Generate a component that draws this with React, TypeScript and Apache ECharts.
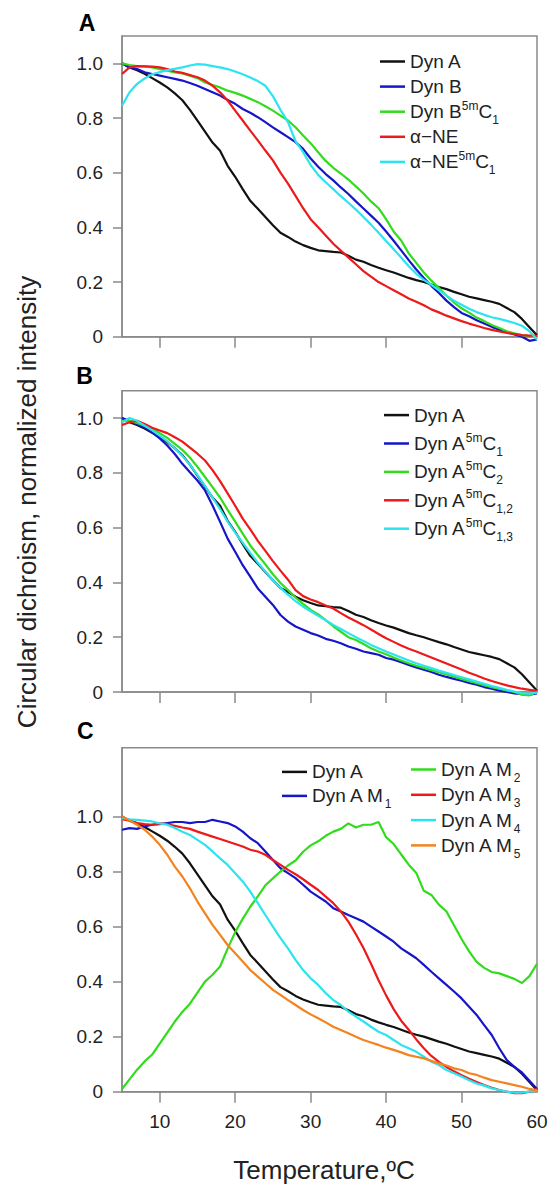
import React, { useEffect, useRef } from "react";
import * as echarts from "echarts";

const FONT = "'Liberation Sans', Arial, Helvetica, sans-serif";

// Temperature grid (°C)
const temperature = [
  5, 6, 7, 8, 9, 10, 11, 12, 13, 14, 15, 16, 17, 18, 19, 20, 21, 22, 23, 24, 25, 26, 27, 28,
  29, 30, 31, 32, 33, 34, 35, 36, 37, 38, 39, 40, 41, 42, 43, 44, 45, 46, 47, 48, 49, 50, 51,
  52, 53, 54, 55, 56, 57, 58, 59, 60,
];

// Dyn A (shared by panels A, B, C)
const dynA = [
  1.0, 0.985, 0.975, 0.962, 0.946, 0.93, 0.912, 0.89, 0.865, 0.83, 0.79, 0.75, 0.71, 0.68, 0.625,
  0.585, 0.54, 0.497, 0.468, 0.438, 0.408, 0.38, 0.365, 0.348, 0.335, 0.325, 0.316, 0.313, 0.31,
  0.308, 0.296, 0.282, 0.274, 0.262, 0.252, 0.243, 0.235, 0.225, 0.215, 0.207, 0.2, 0.191, 0.182,
  0.174, 0.164, 0.155, 0.146, 0.14, 0.134, 0.128, 0.12, 0.105, 0.09, 0.065, 0.035, 0.005,
];

// Panel A
const dynB = [
  1.0, 0.985, 0.979, 0.967, 0.961, 0.955, 0.949, 0.943, 0.937, 0.928, 0.918, 0.906, 0.894, 0.882,
  0.866, 0.852, 0.833, 0.819, 0.803, 0.785, 0.766, 0.748, 0.73, 0.712, 0.687, 0.652, 0.622, 0.595,
  0.572, 0.546, 0.522, 0.495, 0.469, 0.443, 0.417, 0.385, 0.351, 0.316, 0.28, 0.246, 0.215, 0.186,
  0.16, 0.132, 0.108, 0.087, 0.075, 0.06, 0.048, 0.036, 0.026, 0.016, 0.008, 0.0, -0.015, -0.01,
];
const dynB5mC1 = [
  1.0, 0.994, 0.99, 0.989, 0.985, 0.979, 0.973, 0.967, 0.963, 0.955, 0.946, 0.93, 0.921, 0.912,
  0.9, 0.892, 0.882, 0.87, 0.858, 0.843, 0.827, 0.809, 0.791, 0.766, 0.736, 0.708, 0.675, 0.643,
  0.618, 0.597, 0.575, 0.55, 0.524, 0.495, 0.47, 0.43, 0.385, 0.352, 0.305, 0.27, 0.235, 0.205,
  0.178, 0.15, 0.125, 0.104, 0.088, 0.07, 0.057, 0.043, 0.032, 0.02, 0.012, 0.006, 0.002, 0.0,
];
const alphaNE = [
  0.961, 0.985, 0.99, 0.989, 0.988, 0.985, 0.979, 0.97, 0.965, 0.957, 0.949, 0.937, 0.918, 0.894,
  0.864, 0.827, 0.791, 0.754, 0.718, 0.681, 0.645, 0.6, 0.56, 0.515, 0.47, 0.43, 0.4, 0.37, 0.34,
  0.315, 0.29, 0.265, 0.24, 0.22, 0.2, 0.185, 0.17, 0.155, 0.14, 0.128, 0.115, 0.1, 0.089, 0.077,
  0.067, 0.057, 0.048, 0.04, 0.032, 0.025, 0.019, 0.014, 0.01, 0.006, 0.004, 0.004,
];
const alphaNE5mC1 = [
  0.845, 0.894, 0.925, 0.945, 0.96, 0.968, 0.975, 0.98, 0.985, 0.992, 0.997, 0.995, 0.99, 0.985,
  0.979, 0.97, 0.96, 0.948, 0.935, 0.918, 0.88, 0.83, 0.785, 0.715, 0.675, 0.628, 0.592, 0.565,
  0.54, 0.514, 0.49, 0.465, 0.438, 0.41, 0.38, 0.35, 0.32, 0.29, 0.258, 0.23, 0.208, 0.19, 0.17,
  0.15, 0.132, 0.117, 0.102, 0.09, 0.08, 0.071, 0.065, 0.058, 0.05, 0.04, 0.02, -0.01,
];

// Panel B
const dynA5mC1 = [
  1.0, 0.99, 0.978, 0.966, 0.948, 0.926, 0.9, 0.869, 0.833, 0.802, 0.772, 0.736, 0.681, 0.621,
  0.56, 0.512, 0.463, 0.421, 0.378, 0.348, 0.318, 0.281, 0.257, 0.239, 0.227, 0.215, 0.206, 0.194,
  0.187, 0.178, 0.166, 0.158, 0.148, 0.142, 0.136, 0.124, 0.118, 0.109, 0.099, 0.09, 0.081, 0.073,
  0.063, 0.055, 0.048, 0.041, 0.033, 0.027, 0.018, 0.012, 0.005, 0.0, -0.005, -0.008, -0.01, -0.005,
];
const dynA5mC2 = [
  0.99, 0.99, 0.982, 0.972, 0.962, 0.945, 0.928, 0.906, 0.884, 0.856, 0.822, 0.785, 0.748, 0.71,
  0.665, 0.622, 0.578, 0.535, 0.5, 0.466, 0.43, 0.398, 0.372, 0.345, 0.322, 0.3, 0.283, 0.262,
  0.24, 0.22, 0.2, 0.19, 0.175, 0.16, 0.148, 0.138, 0.126, 0.115, 0.105, 0.096, 0.088, 0.08, 0.072,
  0.064, 0.056, 0.048, 0.04, 0.032, 0.025, 0.018, 0.012, 0.006, 0.0, -0.01, -0.012, 0.0,
];
const dynA5mC12 = [
  0.975, 0.985, 0.99, 0.978, 0.965, 0.955, 0.945, 0.93, 0.914, 0.892, 0.87, 0.845, 0.81, 0.77,
  0.725, 0.68, 0.633, 0.594, 0.552, 0.515, 0.478, 0.443, 0.41, 0.372, 0.35, 0.338, 0.328, 0.316,
  0.305, 0.288, 0.272, 0.258, 0.244, 0.228, 0.212, 0.196, 0.183, 0.17, 0.158, 0.148, 0.137, 0.126,
  0.115, 0.104, 0.093, 0.082, 0.07, 0.06, 0.049, 0.04, 0.032, 0.024, 0.018, 0.012, 0.008, 0.004,
];
const dynA5mC13 = [
  0.985, 1.0, 0.99, 0.972, 0.955, 0.936, 0.915, 0.89, 0.862, 0.83, 0.792, 0.752, 0.71, 0.668,
  0.622, 0.582, 0.545, 0.508, 0.472, 0.44, 0.408, 0.38, 0.355, 0.332, 0.312, 0.295, 0.278, 0.262,
  0.245, 0.23, 0.215, 0.2, 0.186, 0.172, 0.16, 0.148, 0.137, 0.126, 0.115, 0.105, 0.096, 0.087,
  0.078, 0.07, 0.062, 0.054, 0.046, 0.038, 0.03, 0.022, 0.015, 0.008, 0.002, -0.004, -0.006, -0.002,
];

// Panel C
const dynAM1 = [
  0.952, 0.958, 0.955, 0.964, 0.97, 0.972, 0.976, 0.98, 0.98, 0.976, 0.98, 0.98, 0.988, 0.982,
  0.976, 0.964, 0.945, 0.921, 0.903, 0.873, 0.842, 0.812, 0.794, 0.776, 0.752, 0.727, 0.709, 0.691,
  0.667, 0.655, 0.642, 0.63, 0.618, 0.6, 0.582, 0.564, 0.545, 0.521, 0.503, 0.485, 0.461, 0.436,
  0.412, 0.388, 0.364, 0.339, 0.309, 0.279, 0.242, 0.206, 0.158, 0.115, 0.09, 0.07, 0.04, 0.01,
];
const dynAM2 = [
  0.01, 0.045, 0.08, 0.11, 0.135, 0.175, 0.215, 0.255, 0.29, 0.32, 0.36, 0.4, 0.425, 0.455, 0.52,
  0.58, 0.628, 0.672, 0.71, 0.75, 0.775, 0.8, 0.822, 0.84, 0.872, 0.895, 0.91, 0.93, 0.945, 0.955,
  0.975, 0.96, 0.97, 0.97, 0.98, 0.925, 0.9, 0.862, 0.825, 0.795, 0.73, 0.715, 0.68, 0.655, 0.605,
  0.555, 0.51, 0.472, 0.45, 0.435, 0.43, 0.42, 0.41, 0.395, 0.42, 0.465,
];
const dynAM3 = [
  0.99, 0.985, 0.976, 0.972, 0.97, 0.975, 0.972, 0.966, 0.96, 0.955, 0.945, 0.936, 0.927, 0.918,
  0.909, 0.9, 0.891, 0.879, 0.873, 0.861, 0.842, 0.824, 0.806, 0.79, 0.772, 0.752, 0.733, 0.709,
  0.685, 0.655, 0.618, 0.572, 0.522, 0.465, 0.405, 0.35, 0.3, 0.258, 0.225, 0.19, 0.158, 0.13,
  0.108, 0.09, 0.074, 0.06, 0.047, 0.035, 0.024, 0.014, 0.006, 0.0, -0.005, -0.005, 0.0, 0.01,
];
const dynAM4 = [
  0.994, 0.99, 0.988, 0.985, 0.982, 0.975, 0.97, 0.958, 0.945, 0.933, 0.915, 0.897, 0.873, 0.848,
  0.824, 0.794, 0.764, 0.727, 0.685, 0.642, 0.6, 0.558, 0.521, 0.479, 0.442, 0.412, 0.388, 0.358,
  0.333, 0.315, 0.291, 0.273, 0.255, 0.236, 0.218, 0.206, 0.188, 0.17, 0.158, 0.145, 0.127, 0.109,
  0.097, 0.079, 0.067, 0.055, 0.042, 0.03, 0.022, 0.012, 0.006, 0.0, -0.003, -0.003, 0.0, 0.005,
];
const dynAM5 = [
  1.0, 0.985, 0.97, 0.952, 0.927, 0.897, 0.861, 0.818, 0.782, 0.739, 0.691, 0.648, 0.606, 0.57,
  0.533, 0.503, 0.473, 0.442, 0.418, 0.394, 0.37, 0.352, 0.333, 0.315, 0.297, 0.281, 0.267, 0.252,
  0.236, 0.224, 0.212, 0.2, 0.188, 0.179, 0.17, 0.16, 0.152, 0.143, 0.133, 0.127, 0.121, 0.112,
  0.103, 0.095, 0.085, 0.079, 0.067, 0.061, 0.051, 0.042, 0.036, 0.03, 0.024, 0.018, 0.01, 0.005,
];

// Tick values
const xTickValues = [10, 20, 30, 40, 50];
const xLabelValues = [10, 20, 30, 40, 50, 60];
const yTickValues = [0, 0.2, 0.4, 0.6, 0.8, 1.0];

const COLORS = {
  black: "#111111",
  blue: "#1616c8",
  green: "#32dc1c",
  red: "#ec1a1a",
  cyan: "#2ce4f0",
  orange: "#f4821e",
};

const panelA = [
  { name: "Dyn A", data: dynA, color: COLORS.black },
  { name: "Dyn B", data: dynB, color: COLORS.blue },
  { name: "Dyn B5mC1", data: dynB5mC1, color: COLORS.green },
  { name: "α−NE", data: alphaNE, color: COLORS.red },
  { name: "α−NE5mC1", data: alphaNE5mC1, color: COLORS.cyan },
];
const panelB = [
  { name: "Dyn A", data: dynA, color: COLORS.black },
  { name: "Dyn A5mC1", data: dynA5mC1, color: COLORS.blue },
  { name: "Dyn A5mC2", data: dynA5mC2, color: COLORS.green },
  { name: "Dyn A5mC1,2", data: dynA5mC12, color: COLORS.red },
  { name: "Dyn A5mC1,3", data: dynA5mC13, color: COLORS.cyan },
];
const panelC = [
  { name: "Dyn A", data: dynA, color: COLORS.black },
  { name: "Dyn A M1", data: dynAM1, color: COLORS.blue },
  { name: "Dyn A M2", data: dynAM2, color: COLORS.green },
  { name: "Dyn A M3", data: dynAM3, color: COLORS.red },
  { name: "Dyn A M4", data: dynAM4, color: COLORS.cyan },
  { name: "Dyn A M5", data: dynAM5, color: COLORS.orange },
];

// Every label carries a sup and a sub token so all legend rows share one height.
const LABELS: Record<string, string> = {
  "Dyn A": "{m|Dyn A}{sup| }{sub| }",
  "Dyn B": "{m|Dyn B}{sup| }{sub| }",
  "Dyn B5mC1": "{m|Dyn B}{sup|5m}{m|C}{sub|1}",
  "α−NE": "{m|α−NE}{sup| }{sub| }",
  "α−NE5mC1": "{m|α−NE}{sup|5m}{m|C}{sub|1}",
  "Dyn A5mC1": "{m|Dyn A}{sup|5m}{m|C}{sub|1}",
  "Dyn A5mC2": "{m|Dyn A}{sup|5m}{m|C}{sub|2}",
  "Dyn A5mC1,2": "{m|Dyn A}{sup|5m}{m|C}{sub|1,2}",
  "Dyn A5mC1,3": "{m|Dyn A}{sup|5m}{m|C}{sub|1,3}",
  "Dyn A M1": "{m|Dyn A M}{sub|1}{sup| }",
  "Dyn A M2": "{m|Dyn A M}{sub|2}{sup| }",
  "Dyn A M3": "{m|Dyn A M}{sub|3}{sup| }",
  "Dyn A M4": "{m|Dyn A M}{sub|4}{sup| }",
  "Dyn A M5": "{m|Dyn A M}{sub|5}{sup| }",
};

const GRID_COLOR = "#8a8a8a";
const TEXT_COLOR = "#222222";

function buildOption() {
  const grids = [
    { top: 36, height: 300.7 },
    { top: 390.7, height: 301.3 },
    { top: 747.7, height: 344 },
  ].map((g) => ({
    left: 122,
    width: 415,
    top: g.top,
    height: g.height,
    show: true,
    borderColor: GRID_COLOR,
    borderWidth: 1.5,
    backgroundColor: "transparent",
  }));

  const xAxis = [0, 1, 2].map((i) => ({
    gridIndex: i,
    type: "value",
    min: 5,
    max: 60,
    axisLine: { show: true, lineStyle: { color: GRID_COLOR, width: 1.5 } },
    axisTick: {
      show: true,
      inside: false,
      length: 11,
      customValues: xTickValues,
      lineStyle: { color: GRID_COLOR, width: 1.5 },
    },
    axisLabel: {
      show: i === 2,
      customValues: xLabelValues,
      margin: 20,
      fontSize: 19,
      fontFamily: FONT,
      color: TEXT_COLOR,
    },
    splitLine: { show: false },
  }));

  const yAxis = [0, 1, 2].map((i) => ({
    gridIndex: i,
    type: "value",
    min: 0,
    max: i === 2 ? 1.25 : 1.1,
    axisLine: { show: true, lineStyle: { color: GRID_COLOR, width: 1.5 } },
    axisTick: {
      show: true,
      inside: false,
      length: 9,
      customValues: yTickValues,
      lineStyle: { color: GRID_COLOR, width: 1.5 },
    },
    axisLabel: {
      customValues: yTickValues,
      margin: 19,
      fontSize: 19,
      fontFamily: FONT,
      color: TEXT_COLOR,
      formatter: (v: number) => (v > 1.05 ? "" : v === 0 ? "0" : v.toFixed(1)),
    },
    splitLine: { show: false },
  }));

  const series: any[] = [];
  [panelA, panelB, panelC].forEach((panel, gi) => {
    panel.forEach((s) => {
      series.push({
        type: "line",
        name: s.name,
        xAxisIndex: gi,
        yAxisIndex: gi,
        data: temperature.map((t, k) => [t, s.data[k]]),
        showSymbol: false,
        symbol: "none",
        clip: false,
        color: s.color,
        lineStyle: { color: s.color, width: 2.2 },
        emphasis: { disabled: true },
      });
    });
  });

  const rich = {
    m: { fontSize: 19, lineHeight: 29, fontFamily: FONT, color: TEXT_COLOR },
    sup: { fontSize: 12, lineHeight: 12, padding: [0, 0, 12, 0], fontFamily: FONT, color: TEXT_COLOR },
    sub: { fontSize: 12, lineHeight: 12, padding: [17, 0, 0, 0], fontFamily: FONT, color: TEXT_COLOR },
  };
  const legendBase = {
    orient: "vertical",
    icon: "rect",
    itemWidth: 25,
    itemHeight: 2.5,
    padding: 0,
    selectedMode: false,
    formatter: (n: string) => LABELS[n] || n,
    textStyle: { fontSize: 19, fontFamily: FONT, color: TEXT_COLOR, rich },
  };
  const legend = [
    { ...legendBase, left: 380, top: 47, itemGap: -3.9, data: panelA.map((s) => s.name) },
    { ...legendBase, left: 384, top: 400.6, itemGap: -0.6, data: panelB.map((s) => s.name) },
    { ...legendBase, left: 282, top: 757.4, itemGap: -5, data: panelC.slice(0, 2).map((s) => s.name) },
    { ...legendBase, left: 411, top: 755, itemGap: -3.7, data: panelC.slice(2).map((s) => s.name) },
  ];

  const txt = (text: string, x: number, y: number, fontSize: number, bold: boolean, rotation = 0) => ({
    type: "text",
    x,
    y,
    rotation,
    silent: true,
    style: {
      text,
      fontSize,
      fontWeight: bold ? "bold" : "normal",
      fontFamily: FONT,
      fill: bold ? "#000000" : TEXT_COLOR,
      align: "center",
      verticalAlign: "middle",
      textAlign: "center",
      textVerticalAlign: "middle",
    },
  });

  const graphic = [
    txt("A", 87, 23, 23, true),
    txt("B", 84.5, 376, 23, true),
    txt("C", 85.4, 731, 23, true),
    txt("Circular dichroism, normalized intensity", 27, 502, 26, false, Math.PI / 2),
    txt("Temperature,ºC", 324, 1170, 26, false),
  ];

  return {
    animation: false,
    backgroundColor: "#ffffff",
    grid: grids,
    xAxis,
    yAxis,
    legend,
    series,
    graphic,
  };
}

export default function App() {
  const ref = useRef<HTMLDivElement>(null);
  useEffect(() => {
    if (!ref.current) return;
    const chart = echarts.init(ref.current, undefined, { renderer: "svg", width: 551, height: 1184 });
    chart.setOption(buildOption() as any);
    return () => chart.dispose();
  }, []);
  return (
    <div
      ref={ref}
      style={{ position: "absolute", left: 0, top: 0, width: 551, height: 1184, background: "#fff" }}
    />
  );
}
